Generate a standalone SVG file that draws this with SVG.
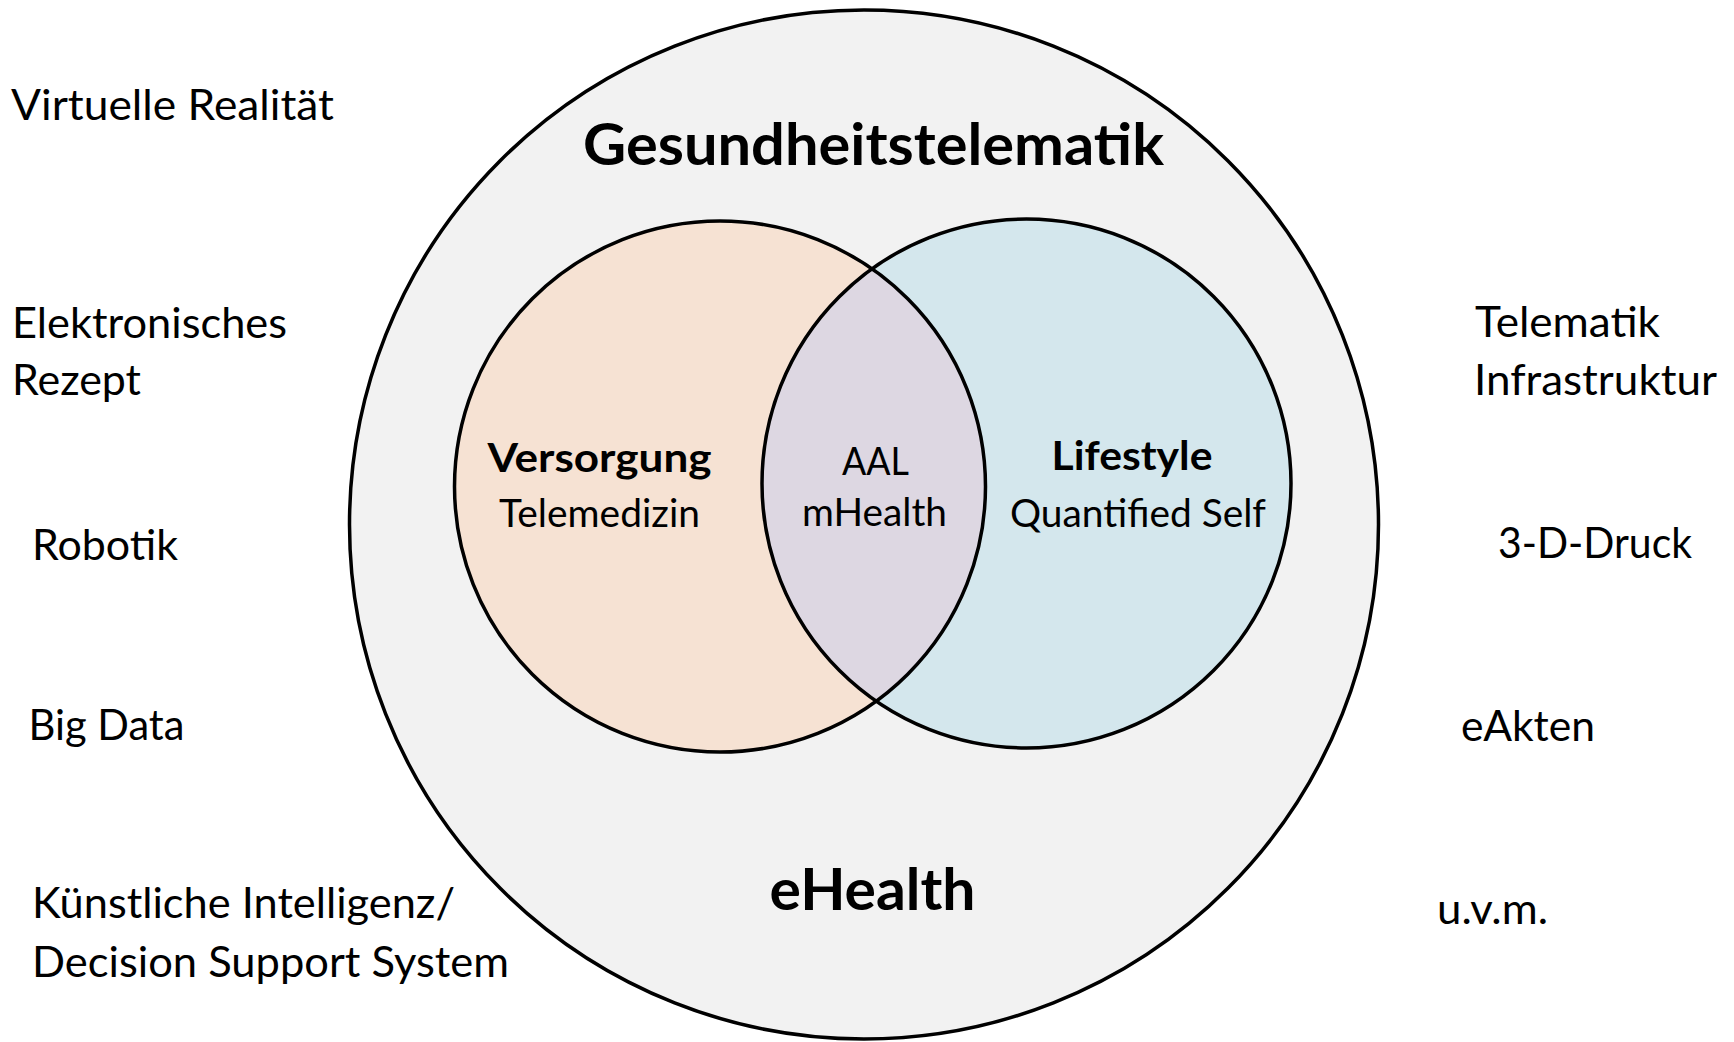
<svg xmlns="http://www.w3.org/2000/svg" width="1734" height="1042" viewBox="0 0 1734 1042">
  <style>
    .t { font-family: Lato, "Open Sans", "Liberation Sans", sans-serif; fill: #000; }
    .side { font-size: 42px; }
    .big { font-size: 57px; font-weight: bold; }
    .lbl { font-size: 41px; font-weight: bold; }
    .sub { font-size: 38px; }
    .ring { stroke: #000; stroke-width: 3.5; }
  </style>
  <defs>
    <clipPath id="clipLeft">
      <circle cx="720" cy="486.5" r="265.5"/>
    </clipPath>
  </defs>
  <rect width="1734" height="1042" fill="#ffffff"/>

  <g id="ehealth">
    <circle class="ring" cx="864" cy="524.5" r="514.5" fill="#f2f2f2"/>
    <text class="t big" x="873.5" y="165" text-anchor="middle" textLength="581" lengthAdjust="spacingAndGlyphs">Gesundheitstelematik</text>
    <text class="t big" x="872.5" y="910" text-anchor="middle" textLength="206" lengthAdjust="spacingAndGlyphs">eHealth</text>
  </g>

  <g id="versorgung">
    <circle cx="720" cy="486.5" r="265.5" fill="#f6e2d3"/>
  </g>
  <g id="lifestyle">
    <circle cx="1026.5" cy="483.5" r="264.5" fill="#d4e7ed"/>
  </g>
  <g id="overlap">
    <circle cx="1026.5" cy="483.5" r="264.5" fill="#ddd7e2" clip-path="url(#clipLeft)"/>
  </g>
  <g id="outlines" fill="none">
    <circle class="ring" cx="720" cy="486.5" r="265.5"/>
    <circle class="ring" cx="1026.5" cy="483.5" r="264.5"/>
  </g>

  <g id="versorgung-text">
    <text class="t lbl" x="599.5" y="472" text-anchor="middle" textLength="224" lengthAdjust="spacingAndGlyphs">Versorgung</text>
    <text class="t sub" x="599.5" y="527" text-anchor="middle" textLength="201" lengthAdjust="spacingAndGlyphs">Telemedizin</text>
  </g>
  <g id="overlap-text">
    <text class="t sub" x="875.5" y="475" text-anchor="middle" textLength="67" lengthAdjust="spacingAndGlyphs">AAL</text>
    <text class="t sub" x="874.5" y="526" text-anchor="middle" textLength="145" lengthAdjust="spacingAndGlyphs">mHealth</text>
  </g>
  <g id="lifestyle-text">
    <text class="t lbl" x="1132" y="470" text-anchor="middle" textLength="161" lengthAdjust="spacingAndGlyphs">Lifestyle</text>
    <text class="t sub" x="1138" y="527" text-anchor="middle" textLength="256" lengthAdjust="spacingAndGlyphs">Quantified Self</text>
  </g>

  <g id="left-items">
    <text class="t side" x="11" y="120" textLength="323" lengthAdjust="spacingAndGlyphs">Virtuelle Realität</text>
    <text class="t side" x="12" y="338" textLength="275" lengthAdjust="spacingAndGlyphs">Elektronisches</text>
    <text class="t side" x="12" y="395" textLength="129" lengthAdjust="spacingAndGlyphs">Rezept</text>
    <text class="t side" x="32" y="560" textLength="146" lengthAdjust="spacingAndGlyphs">Robotik</text>
    <text class="t side" x="28.5" y="740" textLength="156" lengthAdjust="spacingAndGlyphs">Big Data</text>
    <text class="t side" x="32" y="918" textLength="423" lengthAdjust="spacingAndGlyphs">Künstliche Intelligenz/</text>
    <text class="t side" x="32" y="977" textLength="477" lengthAdjust="spacingAndGlyphs">Decision Support System</text>
  </g>

  <g id="right-items">
    <text class="t side" x="1475" y="337" textLength="185" lengthAdjust="spacingAndGlyphs">Telematik</text>
    <text class="t side" x="1474" y="395" textLength="243" lengthAdjust="spacingAndGlyphs">Infrastruktur</text>
    <text class="t side" x="1498" y="558" textLength="194" lengthAdjust="spacingAndGlyphs">3-D-Druck</text>
    <text class="t side" x="1461" y="741" textLength="134" lengthAdjust="spacingAndGlyphs">eAkten</text>
    <text class="t side" x="1437" y="924" textLength="111" lengthAdjust="spacingAndGlyphs">u.v.m.</text>
  </g>

  <g id="connectors"/>
</svg>
